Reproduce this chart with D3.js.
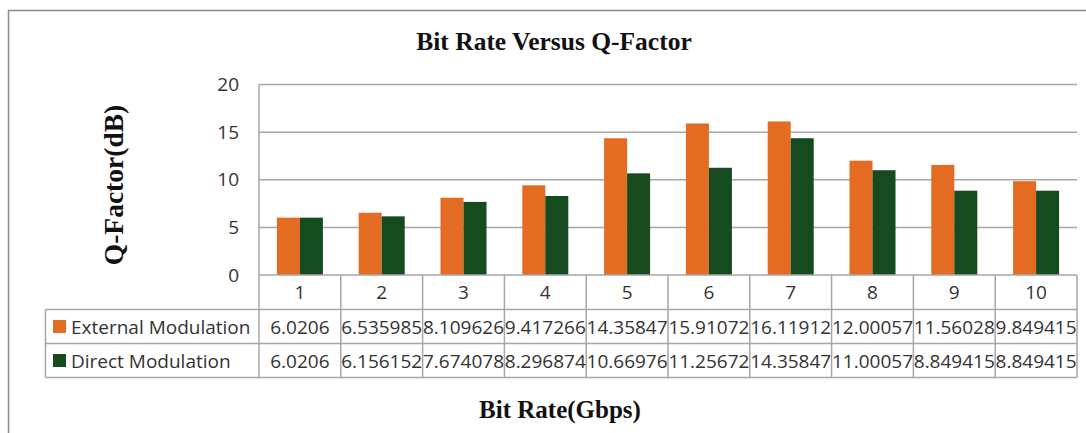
<!DOCTYPE html>
<html>
<head>
<meta charset="utf-8">
<script src="https://cdn.jsdelivr.net/npm/d3@7"></script>
<style>
  html, body { margin: 0; padding: 0; background: #fff; }
  svg { display: block; }
</style>
</head>
<body>
<svg id="chart" width="1086" height="433"></svg>
<script>
const categories = ["1","2","3","4","5","6","7","8","9","10"];
const seriesNames = ["External Modulation", "Direct Modulation"];
const externalValues = [6.0206, 6.535985, 8.109626, 9.417266, 14.35847, 15.91072, 16.11912, 12.00057, 11.56028, 9.849415];
const directValues = [6.0206, 6.156152, 7.674078, 8.296874, 10.66976, 11.25672, 14.35847, 11.00057, 8.849415, 8.849415];
const externalLabels = ["6.0206","6.535985","8.109626","9.417266","14.35847","15.91072","16.11912","12.00057","11.56028","9.849415"];
const directLabels = ["6.0206","6.156152","7.674078","8.296874","10.66976","11.25672","14.35847","11.00057","8.849415","8.849415"];
const yTicks = [0, 5, 10, 15, 20];
const colors = ["#E46C22", "#164A1F"];

const svg = d3.select("#chart");
const W = 1086, H = 433;
const plot = {left: 259, right: 1077, top: 84.5, bottom: 275};
const gridColor = "#a6a6a6";
const sans = "'Open Sans', sans-serif";
const serif = "'Liberation Serif', 'Times New Roman', serif";

// Outer border (top and left visible)
svg.append("path")
  .attr("d", `M8.5,${H} L8.5,10.5 L${W},10.5`)
  .attr("fill", "none").attr("stroke", "#8c8c8c").attr("stroke-width", 1.5);

const x = d3.scaleBand().domain(categories).range([plot.left, plot.right]).padding(0);
const groupFrac = 0.5624;
const xSub = d3.scaleBand().domain(seriesNames).range([0, x.bandwidth() * groupFrac]).padding(0);
const groupOffset = (x.bandwidth() * (1 - groupFrac)) / 2;
const y = d3.scaleLinear().domain([0, 20]).range([plot.bottom, plot.top]);

// Gridlines
svg.append("g").selectAll("line").data(yTicks.filter(t => t > 0)).join("line")
  .attr("x1", plot.left).attr("x2", plot.right)
  .attr("y1", d => y(d)).attr("y2", d => y(d))
  .attr("stroke", gridColor).attr("stroke-width", 1.5);

// Y axis line
svg.append("line").attr("x1", plot.left).attr("x2", plot.left)
  .attr("y1", plot.top).attr("y2", plot.bottom)
  .attr("stroke", gridColor).attr("stroke-width", 1.5);

// Y tick labels
const yAxis = d3.axisLeft(y).tickValues(yTicks).tickSize(0).tickPadding(20);
const yg = svg.append("g").attr("transform", `translate(${plot.left},0)`).call(yAxis);
yg.select(".domain").remove();
yg.selectAll("text").attr("font-family", sans).attr("font-size", 19).attr("fill", "#333");

// Bars
const seriesData = [externalValues, directValues];
seriesNames.forEach((s, si) => {
  svg.append("g").selectAll("rect").data(categories).join("rect")
    .attr("x", c => x(c) + groupOffset + xSub(s))
    .attr("width", xSub.bandwidth())
    .attr("y", (c, i) => y(seriesData[si][i]))
    .attr("height", (c, i) => y(0) - y(seriesData[si][i]))
    .attr("fill", colors[si]);
});

// Data table
const rowTop = [275, 309.5, 343.5, 377.5];
const tableLeft = 45.5;
const lineColor = "#a6a6a6";
const tg = svg.append("g");
tg.append("line").attr("x1", plot.left).attr("x2", plot.right).attr("y1", rowTop[0]).attr("y2", rowTop[0]).attr("stroke", lineColor).attr("stroke-width", 1.5);
[1, 2, 3].forEach(r => {
  tg.append("line").attr("x1", tableLeft).attr("x2", plot.right).attr("y1", rowTop[r]).attr("y2", rowTop[r]).attr("stroke", lineColor).attr("stroke-width", 1.5);
});
tg.append("line").attr("x1", tableLeft).attr("x2", tableLeft).attr("y1", rowTop[1]).attr("y2", rowTop[3]).attr("stroke", lineColor).attr("stroke-width", 1.5);
const vx = categories.map(c => x(c)).concat([plot.right]);
tg.selectAll("line.v").data(vx).join("line").attr("class", "v")
  .attr("x1", d => d).attr("x2", d => d).attr("y1", rowTop[0]).attr("y2", rowTop[3])
  .attr("stroke", lineColor).attr("stroke-width", 1.5);

tg.selectAll("text.cat").data(categories).join("text").attr("class", "cat")
  .attr("x", c => x(c) + x.bandwidth() / 2).attr("y", (rowTop[0] + rowTop[1]) / 2)
  .attr("text-anchor", "middle").attr("dominant-baseline", "central")
  .attr("font-family", sans).attr("font-size", 19).attr("fill", "#333").text(c => c);

const rowLabels = [externalLabels, directLabels];
seriesNames.forEach((s, si) => {
  const cy = (rowTop[si + 1] + rowTop[si + 2]) / 2;
  tg.append("rect").attr("x", 53).attr("y", cy - 6.5).attr("width", 13).attr("height", 13).attr("fill", colors[si]);
  tg.append("text").attr("x", 71).attr("y", cy).attr("dominant-baseline", "central")
    .attr("font-family", sans).attr("font-size", 19).attr("fill", "#333").text(s);
  tg.selectAll(null).data(categories).join("text")
    .attr("x", c => x(c) + x.bandwidth() / 2).attr("y", cy)
    .attr("text-anchor", "middle").attr("dominant-baseline", "central")
    .attr("font-family", sans).attr("font-size", 19).attr("fill", "#333")
    .text((c, i) => rowLabels[si][i]);
});

svg.append("text").attr("x", 554).attr("y", 50).attr("text-anchor", "middle")
  .attr("font-family", serif).attr("font-weight", "bold").attr("font-size", 25.5).attr("fill", "#111")
  .text("Bit Rate Versus Q-Factor");
svg.append("text").attr("transform", "translate(123,185) rotate(-90)").attr("text-anchor", "middle")
  .attr("font-family", serif).attr("font-weight", "bold").attr("font-size", 27.5).attr("fill", "#111")
  .text("Q-Factor(dB)");
svg.append("text").attr("x", 560).attr("y", 418).attr("text-anchor", "middle")
  .attr("font-family", serif).attr("font-weight", "bold").attr("font-size", 25).attr("fill", "#111")
  .text("Bit Rate(Gbps)");
</script>
</body>
</html>
